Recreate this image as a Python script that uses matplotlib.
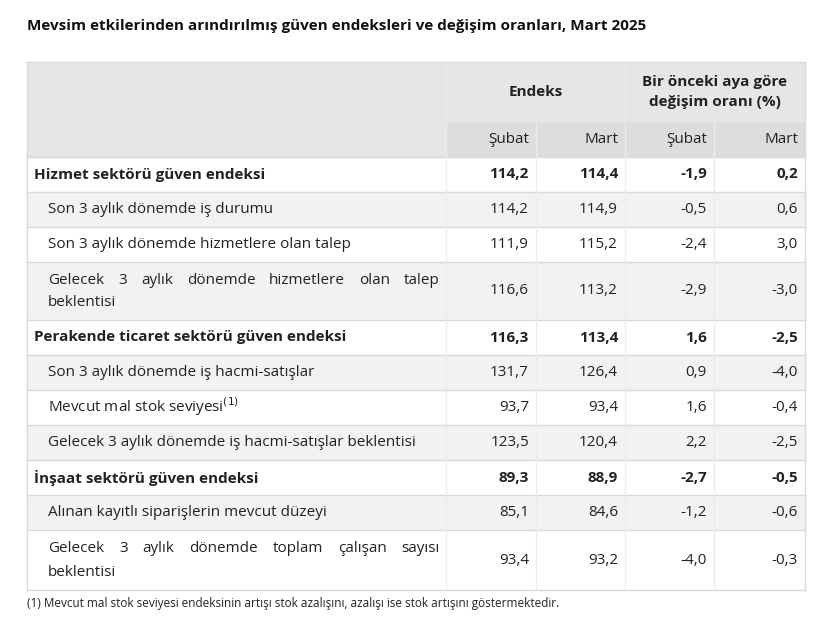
import matplotlib
matplotlib.use("Agg")
import matplotlib.pyplot as plt
from matplotlib.patches import Rectangle

title = "Mevsim etkilerinden arındırılmış güven endeksleri ve değişim oranları, Mart 2025"
group_headers = ["Endeks", "Bir önceki aya göre\ndeğişim oranı (%)"]
sub_headers = ["Şubat", "Mart", "Şubat", "Mart"]
row_labels = [
    "Hizmet sektörü güven endeksi",
    "Son 3 aylık dönemde iş durumu",
    "Son 3 aylık dönemde hizmetlere olan talep",
    "Gelecek 3 aylık dönemde hizmetlere olan talep|beklentisi",
    "Perakende ticaret sektörü güven endeksi",
    "Son 3 aylık dönemde iş hacmi-satışlar",
    "Mevcut mal stok seviyesi$^{(1)}$",
    "Gelecek 3 aylık dönemde iş hacmi-satışlar beklentisi",
    "İnşaat sektörü güven endeksi",
    "Alınan kayıtlı siparişlerin mevcut düzeyi",
    "Gelecek 3 aylık dönemde toplam çalışan sayısı|beklentisi",
]
row_bold = [True, False, False, False, True, False, False, False, True, False, False]
endeks_subat = ["114,2", "114,2", "111,9", "116,6", "116,3", "131,7", "93,7", "123,5", "89,3", "85,1", "93,4"]
endeks_mart = ["114,4", "114,9", "115,2", "113,2", "113,4", "126,4", "93,4", "120,4", "88,9", "84,6", "93,2"]
degisim_subat = ["-1,9", "-0,5", "-2,4", "-2,9", "1,6", "0,9", "1,6", "2,2", "-2,7", "-1,2", "-4,0"]
degisim_mart = ["0,2", "0,6", "3,0", "-3,0", "-2,5", "-4,0", "-0,4", "-2,5", "-0,5", "-0,6", "-0,3"]
footnote = "(1) Mevcut mal stok seviyesi endeksinin artışı stok azalışını, azalışı ise stok artışını göstermektedir."

plt.rcParams['font.family'] = ['Open Sans', 'DejaVu Sans']
W, H = 831, 618
fig = plt.figure(figsize=(W/100, H/100), dpi=100)
ax = fig.add_axes([0, 0, 1, 1])
ax.set_xlim(0, W); ax.set_ylim(H, 0); ax.axis('off')

cols = [27, 446, 536, 625, 714, 805]
row_edges = [157, 192, 227, 262, 320, 355, 390, 425, 460, 495, 530, 590]
top, mid = 62, 122
FS = 11
TC = '#222222'
LC = '#d9d9d9'

ax.text(27, 26, title, fontsize=11, fontweight='bold', color='#111111', va='center')

ax.add_patch(Rectangle((cols[0], top), cols[-1]-cols[0], row_edges[0]-top, fc='#e6e6e6', ec='none'))
ax.add_patch(Rectangle((cols[1], mid), cols[-1]-cols[1], row_edges[0]-mid, fc='#dddddd', ec='none'))
for i in range(len(row_labels)):
    y0, y1 = row_edges[i], row_edges[i+1]
    fc = '#f2f2f2' if i % 2 else '#ffffff'
    ax.add_patch(Rectangle((cols[0], y0), cols[-1]-cols[0], y1-y0, fc=fc, ec='none'))

lw = 1.0
ax.plot([cols[0], cols[-1]], [top, top], color=LC, lw=lw)
for y in row_edges:
    ax.plot([cols[0], cols[-1]], [y, y], color=LC, lw=lw)
ax.plot([cols[0], cols[0]], [top, row_edges[-1]], color=LC, lw=lw)
ax.plot([cols[-1], cols[-1]], [top, row_edges[-1]], color=LC, lw=lw)
ax.plot([cols[1], cols[1]], [top, row_edges[-1]], color='#ececec', lw=lw)
ax.plot([cols[3], cols[3]], [top, row_edges[-1]], color='#ececec', lw=lw)
for c in (cols[2], cols[4]):
    ax.plot([c, c], [mid, row_edges[-1]], color='#ececec', lw=lw)

ax.text((cols[1]+cols[3])/2, (top+mid)/2, group_headers[0], fontsize=FS, fontweight='bold',
        ha='center', va='center', color=TC)
ax.text((cols[3]+cols[5])/2, (top+mid)/2, group_headers[1], fontsize=FS, fontweight='bold',
        ha='center', va='center', color=TC, linespacing=1.55)
for j, s in enumerate(sub_headers):
    ax.text(cols[j+2]-7, (mid+row_edges[0])/2, s, fontsize=FS, ha='right', va='center', color=TC)

fig.canvas.draw()
renderer = fig.canvas.get_renderer()

def justify(line, x0, x1, y, weight):
    words = line.split(' ')
    ts = [ax.text(0, y, w, fontsize=FS, fontweight=weight, va='center', color=TC) for w in words]
    inv = ax.transData.inverted()
    widths = []
    for t in ts:
        bb = t.get_window_extent(renderer)
        a = inv.transform((bb.x0, 0))[0]; b = inv.transform((bb.x1, 0))[0]
        widths.append(b - a)
    gap = (x1 - x0 - sum(widths)) / max(len(words)-1, 1)
    x = x0
    for t, w in zip(ts, widths):
        t.set_x(x); x += w + gap

for i, lab in enumerate(row_labels):
    y0, y1 = row_edges[i], row_edges[i+1]
    yc = (y0 + y1) / 2
    bold = row_bold[i]
    weight = 'bold' if bold else 'normal'
    xl = cols[0] + 7 if bold else cols[0] + 21
    if '|' in lab:
        l1, l2 = lab.split('|')
        justify(l1, xl, cols[1]-6, yc-11, weight)
        ax.text(xl, yc+12, l2, fontsize=FS, fontweight=weight, va='center', color=TC)
    elif '$' in lab:
        ax.text(xl, yc+5, lab, fontsize=FS, fontweight=weight, va='baseline', color=TC)
    else:
        ax.text(xl, yc, lab, fontsize=FS, fontweight=weight, va='center', color=TC)
    for j, arr in enumerate([endeks_subat, endeks_mart, degisim_subat, degisim_mart]):
        ax.text(cols[j+2]-7, yc, arr[i], fontsize=FS, fontweight=weight, ha='right', va='center', color=TC)

ax.text(27, 603, footnote, fontsize=8.5, va='center', color=TC)
fig.savefig('out.png', dpi=100)
